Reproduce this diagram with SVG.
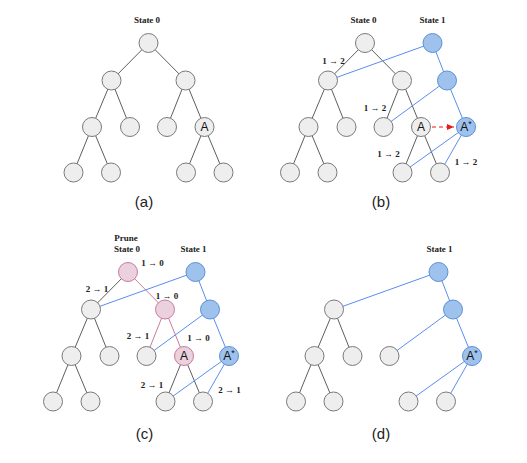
<svg xmlns="http://www.w3.org/2000/svg" width="527" height="463" viewBox="0 0 527 463">
<style>
.g{fill:#eeeeee;stroke:#7a7a7a;stroke-width:1}
.b{fill:#9ec2ec;stroke:#5b8fd9;stroke-width:1}
.p{fill:#ebd0de;stroke:#c57c9f;stroke-width:1}
.eg{stroke:#5e5e5e;stroke-width:1;fill:none}
.eb{stroke:#5b8def;stroke-width:1;fill:none}
.ep{stroke:#c57c9f;stroke-width:1;fill:none}
.hd{font-family:"Liberation Serif",serif;font-weight:bold;font-size:9px;fill:#222;text-anchor:middle}
.lb{font-family:"Liberation Serif",serif;font-weight:bold;font-size:9px;fill:#222;text-anchor:middle}
.cap{font-family:"Liberation Sans",Arial,sans-serif;font-size:15px;fill:#222;text-anchor:middle}
.nt{font-family:"Liberation Sans",Arial,sans-serif;font-size:12px;fill:#111;text-anchor:middle}
</style>
<defs>
<marker id="ah" markerWidth="8" markerHeight="8" refX="7" refY="4" orient="auto" markerUnits="userSpaceOnUse">
<path d="M0,1 L7,4 L0,7 Z" fill="#e8191a"/>
</marker>
</defs>

<g id="connectors">
<!-- panel a -->
<g class="eg">
<line x1="148.5" y1="43" x2="111.5" y2="80.5"/>
<line x1="148.5" y1="43" x2="185.5" y2="80.5"/>
<line x1="111.5" y1="80.5" x2="92" y2="127"/>
<line x1="111.5" y1="80.5" x2="130" y2="127"/>
<line x1="185.5" y1="80.5" x2="167" y2="127"/>
<line x1="185.5" y1="80.5" x2="204.5" y2="127"/>
<line x1="92" y1="127" x2="73.5" y2="172.5"/>
<line x1="92" y1="127" x2="111" y2="172.5"/>
<line x1="204.5" y1="127" x2="186" y2="172.5"/>
<line x1="204.5" y1="127" x2="223.5" y2="172.5"/>
</g>
<!-- panel b -->
<g class="eg">
<line x1="365" y1="43" x2="328" y2="80.5"/>
<line x1="365" y1="43" x2="402" y2="80.5"/>
<line x1="328" y1="80.5" x2="308.5" y2="127"/>
<line x1="328" y1="80.5" x2="346.5" y2="127"/>
<line x1="402" y1="80.5" x2="383.5" y2="127"/>
<line x1="402" y1="80.5" x2="421" y2="127"/>
<line x1="308.5" y1="127" x2="290" y2="172.5"/>
<line x1="308.5" y1="127" x2="327.5" y2="172.5"/>
<line x1="421" y1="127" x2="402.5" y2="172.5"/>
<line x1="421" y1="127" x2="440" y2="172.5"/>
</g>
<g class="eb">
<line x1="432.5" y1="43" x2="328" y2="80.5"/>
<line x1="432.5" y1="43" x2="447" y2="80.5"/>
<line x1="447" y1="80.5" x2="383.5" y2="127"/>
<line x1="447" y1="80.5" x2="466" y2="127"/>
<line x1="466" y1="127" x2="402.5" y2="172.5"/>
<line x1="466" y1="127" x2="440" y2="172.5"/>
</g>
<line x1="432" y1="127" x2="454" y2="127" stroke="#e8191a" stroke-width="1" stroke-dasharray="4,3" marker-end="url(#ah)"/>
<!-- panel c -->
<g class="eg">
<line x1="128" y1="272" x2="91" y2="309.5"/>
<line x1="91" y1="309.5" x2="71.5" y2="356"/>
<line x1="91" y1="309.5" x2="109.5" y2="356"/>
<line x1="71.5" y1="356" x2="53" y2="401.5"/>
<line x1="71.5" y1="356" x2="90.5" y2="401.5"/>
<line x1="184" y1="356" x2="165.5" y2="401.5"/>
<line x1="184" y1="356" x2="203" y2="401.5"/>
</g>
<g class="ep">
<line x1="128" y1="272" x2="165" y2="309.5"/>
<line x1="165" y1="309.5" x2="146.5" y2="356"/>
<line x1="165" y1="309.5" x2="184" y2="356"/>
</g>
<g class="eb">
<line x1="195.5" y1="272" x2="91" y2="309.5"/>
<line x1="195.5" y1="272" x2="210" y2="309.5"/>
<line x1="210" y1="309.5" x2="146.5" y2="356"/>
<line x1="210" y1="309.5" x2="229" y2="356"/>
<line x1="229" y1="356" x2="165.5" y2="401.5"/>
<line x1="229" y1="356" x2="203" y2="401.5"/>
</g>
<!-- panel d -->
<g class="eg">
<line x1="334" y1="309.5" x2="314.5" y2="356"/>
<line x1="334" y1="309.5" x2="352.5" y2="356"/>
<line x1="314.5" y1="356" x2="296" y2="401.5"/>
<line x1="314.5" y1="356" x2="333.5" y2="401.5"/>
</g>
<g class="eb">
<line x1="438.5" y1="272" x2="334" y2="309.5"/>
<line x1="438.5" y1="272" x2="453" y2="309.5"/>
<line x1="453" y1="309.5" x2="389.5" y2="356"/>
<line x1="453" y1="309.5" x2="472" y2="356"/>
<line x1="472" y1="356" x2="408.5" y2="401.5"/>
<line x1="472" y1="356" x2="446" y2="401.5"/>
</g>
</g>

<!-- panel a nodes -->
<g id="a-root"><circle class="g" cx="148.5" cy="43" r="9.5"/></g>
<g id="a-l1a"><circle class="g" cx="111.5" cy="80.5" r="9.5"/></g>
<g id="a-l1b"><circle class="g" cx="185.5" cy="80.5" r="9.5"/></g>
<g id="a-l2a"><circle class="g" cx="92" cy="127" r="9.5"/></g>
<g id="a-l2b"><circle class="g" cx="130" cy="127" r="9.5"/></g>
<g id="a-l2c"><circle class="g" cx="167" cy="127" r="9.5"/></g>
<g id="a-A"><circle class="g" cx="204.5" cy="127" r="9.5"/><text class="nt" x="204.5" y="131.3">A</text></g>
<g id="a-l3a"><circle class="g" cx="73.5" cy="172.5" r="9.5"/></g>
<g id="a-l3b"><circle class="g" cx="111" cy="172.5" r="9.5"/></g>
<g id="a-l3c"><circle class="g" cx="186" cy="172.5" r="9.5"/></g>
<g id="a-l3d"><circle class="g" cx="223.5" cy="172.5" r="9.5"/></g>

<!-- panel b nodes -->
<g id="b-root0"><circle class="g" cx="365" cy="43" r="9.5"/></g>
<g id="b-root1"><circle class="b" cx="432.5" cy="43" r="9.5"/></g>
<g id="b-l1a"><circle class="g" cx="328" cy="80.5" r="9.5"/></g>
<g id="b-l1b"><circle class="g" cx="402" cy="80.5" r="9.5"/></g>
<g id="b-l1c"><circle class="b" cx="447" cy="80.5" r="9.5"/></g>
<g id="b-l2a"><circle class="g" cx="308.5" cy="127" r="9.5"/></g>
<g id="b-l2b"><circle class="g" cx="346.5" cy="127" r="9.5"/></g>
<g id="b-l2c"><circle class="g" cx="383.5" cy="127" r="9.5"/></g>
<g id="b-A"><circle class="g" cx="421" cy="127" r="9.5"/><text class="nt" x="421" y="131.3">A</text></g>
<g id="b-Astar"><circle class="b" cx="466" cy="127" r="9.5"/><text class="nt" x="466" y="131.3">A<tspan font-size="9" dy="-4">*</tspan></text></g>
<g id="b-l3a"><circle class="g" cx="290" cy="172.5" r="9.5"/></g>
<g id="b-l3b"><circle class="g" cx="327.5" cy="172.5" r="9.5"/></g>
<g id="b-l3c"><circle class="g" cx="402.5" cy="172.5" r="9.5"/></g>
<g id="b-l3d"><circle class="g" cx="440" cy="172.5" r="9.5"/></g>

<!-- panel c nodes -->
<g id="c-root0"><circle class="p" cx="128" cy="272" r="9.5"/></g>
<g id="c-root1"><circle class="b" cx="195.5" cy="272" r="9.5"/></g>
<g id="c-l1a"><circle class="g" cx="91" cy="309.5" r="9.5"/></g>
<g id="c-l1b"><circle class="p" cx="165" cy="309.5" r="9.5"/></g>
<g id="c-l1c"><circle class="b" cx="210" cy="309.5" r="9.5"/></g>
<g id="c-l2a"><circle class="g" cx="71.5" cy="356" r="9.5"/></g>
<g id="c-l2b"><circle class="g" cx="109.5" cy="356" r="9.5"/></g>
<g id="c-l2c"><circle class="g" cx="146.5" cy="356" r="9.5"/></g>
<g id="c-A"><circle class="p" cx="184" cy="356" r="9.5"/><text class="nt" x="184" y="360.3">A</text></g>
<g id="c-Astar"><circle class="b" cx="229" cy="356" r="9.5"/><text class="nt" x="229" y="360.3">A<tspan font-size="9" dy="-4">*</tspan></text></g>
<g id="c-l3a"><circle class="g" cx="53" cy="401.5" r="9.5"/></g>
<g id="c-l3b"><circle class="g" cx="90.5" cy="401.5" r="9.5"/></g>
<g id="c-l3c"><circle class="g" cx="165.5" cy="401.5" r="9.5"/></g>
<g id="c-l3d"><circle class="g" cx="203" cy="401.5" r="9.5"/></g>

<!-- panel d nodes -->
<g id="d-root1"><circle class="b" cx="438.5" cy="272" r="9.5"/></g>
<g id="d-l1a"><circle class="g" cx="334" cy="309.5" r="9.5"/></g>
<g id="d-l1c"><circle class="b" cx="453" cy="309.5" r="9.5"/></g>
<g id="d-l2a"><circle class="g" cx="314.5" cy="356" r="9.5"/></g>
<g id="d-l2b"><circle class="g" cx="352.5" cy="356" r="9.5"/></g>
<g id="d-l2c"><circle class="g" cx="389.5" cy="356" r="9.5"/></g>
<g id="d-Astar"><circle class="b" cx="472" cy="356" r="9.5"/><text class="nt" x="472" y="360.3">A<tspan font-size="9" dy="-4">*</tspan></text></g>
<g id="d-l3a"><circle class="g" cx="296" cy="401.5" r="9.5"/></g>
<g id="d-l3b"><circle class="g" cx="333.5" cy="401.5" r="9.5"/></g>
<g id="d-l3c"><circle class="g" cx="408.5" cy="401.5" r="9.5"/></g>
<g id="d-l3d"><circle class="g" cx="446" cy="401.5" r="9.5"/></g>

<g id="labels">
<text class="hd" x="147" y="22.5">State 0</text>
<text class="hd" x="363.5" y="22.5">State 0</text>
<text class="hd" x="432.5" y="22.5">State 1</text>
<text class="hd" x="126" y="241">Prune</text>
<text class="hd" x="127" y="251.5">State 0</text>
<text class="hd" x="193.5" y="251.5">State 1</text>
<text class="hd" x="439.5" y="251.5">State 1</text>

<text class="lb" x="333.5" y="64">1 → 2</text>
<text class="lb" x="375" y="110.5">1 → 2</text>
<text class="lb" x="388.5" y="157">1 → 2</text>
<text class="lb" x="466" y="164.5">1 → 2</text>

<text class="lb" x="152.5" y="265.5">1 → 0</text>
<text class="lb" x="97" y="292">2 → 1</text>
<text class="lb" x="167" y="299">1 → 0</text>
<text class="lb" x="138" y="339">2 → 1</text>
<text class="lb" x="198.5" y="341">1 → 0</text>
<text class="lb" x="152" y="387.5">2 → 1</text>
<text class="lb" x="229.5" y="393">2 → 1</text>

<text class="cap" x="144" y="207">(a)</text>
<text class="cap" x="381" y="207">(b)</text>
<text class="cap" x="144.5" y="438.5">(c)</text>
<text class="cap" x="381" y="438.5">(d)</text>
</g>
</svg>
